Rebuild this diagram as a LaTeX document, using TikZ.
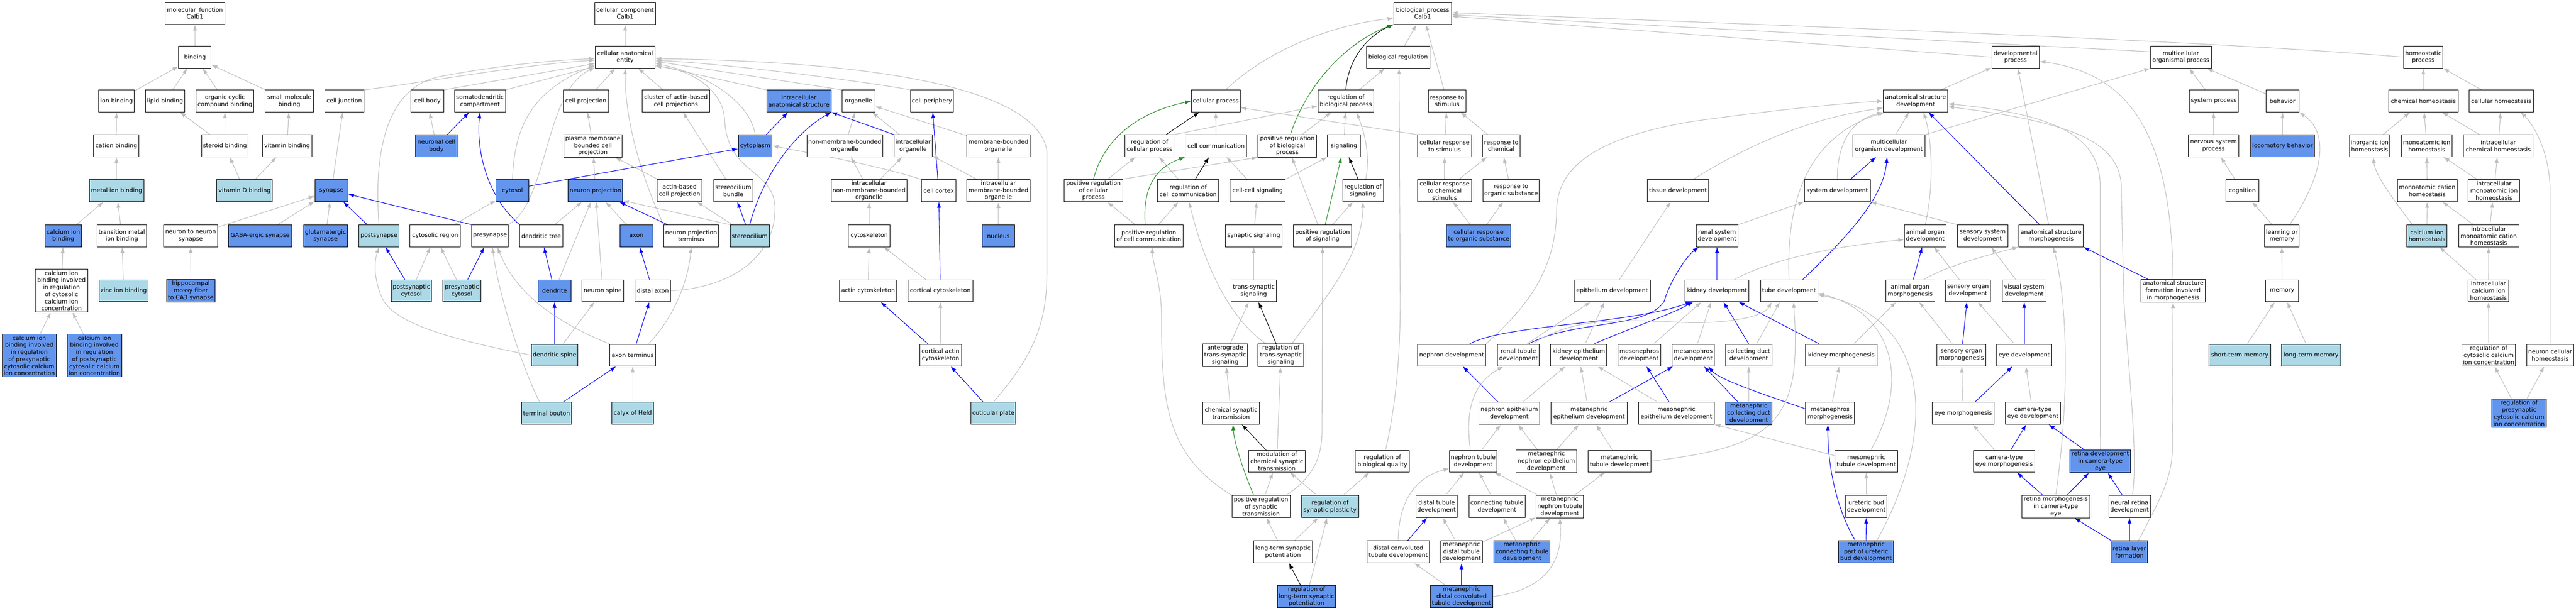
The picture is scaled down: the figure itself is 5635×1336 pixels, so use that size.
\documentclass[tikz,border=0pt]{standalone}
\usepackage{fontspec}
\setmainfont{DejaVu Sans}
\usetikzlibrary{arrows.meta}
\pgfdeclarelayer{bg}
\pgfdeclarelayer{canvas}
\pgfsetlayers{canvas,bg,main}
\definecolor{lbcol}{HTML}{ADD8E6}
\definecolor{cbcol}{HTML}{6495ED}
\definecolor{egray}{HTML}{BEBEBE}
\definecolor{eblue}{HTML}{0000FF}
\definecolor{egreen}{HTML}{228B22}
\newcommand{\gofont}{\fontsize{12.8pt}{15.5pt}\selectfont}
\newcommand{\gonode}[5]{\node[#1, minimum width=#2pt] (#3) at (#4) {#5};}
\tikzset{
  box/.style={draw=black, line width=1pt, rectangle, align=center, minimum height=48pt, inner xsep=2pt, inner ysep=3pt, font=\gofont, fill=white},
  lb/.style={box, fill=lbcol},
  cb/.style={box, fill=cbcol},
  ed/.style={line width=1.2pt, -{Latex[length=13pt,width=9pt]}},
  eg/.style={ed, draw=egray},
  eb/.style={ed, draw=eblue},
  egr/.style={ed, draw=egreen},
  ek/.style={ed, draw=black}
}
\begin{document}
\begin{tikzpicture}[x=1pt,y=-1pt]
\begin{pgfonlayer}{canvas}
\path[use as bounding box, fill=white] (0,0) rectangle (5635,1336);
\end{pgfonlayer}
% ---------------- molecular function
\gonode{box}{131}{mf}{426.5,29}{molecular\_function\\Calb1}
\gonode{box}{71}{binding}{426.5,125}{binding}
\gonode{box}{78}{ionb}{255,221}{ion binding}
\gonode{box}{86}{lipid}{361,221}{lipid binding}
\gonode{box}{126}{occb}{492,221}{organic cyclic\\compound binding}
\gonode{box}{106}{smb}{633,221}{small molecule\\binding}
\gonode{box}{86}{celljunc}{753,221}{cell junction}
\gonode{box}{99}{cationb}{254.5,319}{cation binding}
\gonode{box}{102}{steroid}{492,319}{steroid binding}
\gonode{box}{108}{vitb}{628,319}{vitamin binding}
\gonode{lb}{120}{metalion}{255,417}{metal ion binding}
\gonode{lb}{122}{vitD}{535,417}{vitamin D binding}
\gonode{cb}{72}{synapse}{725,417}{synapse}
\gonode{cb}{81}{caion}{138.5,516}{calcium ion\\binding}
\gonode{box}{109}{transmetal}{266.5,516}{transition metal\\ion binding}
\gonode{box}{118}{ntn}{417,516}{neuron to neuron\\synapse}
\gonode{cb}{138}{gaba}{569,516}{GABA-ergic synapse}
\gonode{cb}{96}{glut}{712,516}{glutamatergic\\synapse}
\gonode{lb}{88}{postsyn}{829,516}{postsynapse}
\gonode{box}{115}{cacyto}{134.5,636}{calcium ion\\binding involved\\in regulation\\of cytosolic\\calcium ion\\concentration}
\gonode{lb}{107}{zinc}{270.5,636}{zinc ion binding}
\gonode{cb}{107}{hippo}{417.5,636}{hippocampal\\mossy fiber\\to CA3 synapse}
\gonode{lb}{88}{postsyncyto}{900,636}{postsynaptic\\cytosol}
\gonode{cb}{118}{capre}{64,778}{calcium ion\\binding involved\\in regulation\\of presynaptic\\cytosolic calcium\\ion concentration}
\gonode{cb}{119}{capost}{206.5,778}{calcium ion\\binding involved\\in regulation\\of postsynaptic\\cytosolic calcium\\ion concentration}
% ---------------- cellular component
\gonode{box}{133}{cc}{1367.5,29}{cellular\_component\\Calb1}
\gonode{box}{131}{cae}{1367.5,125}{cellular anatomical\\entity}
\gonode{box}{72}{cellbody}{935,221}{cell body}
\gonode{box}{112}{somato}{1050,221}{somatodendritic\\compartment}
\gonode{box}{99}{cellproj}{1281.5,221}{cell projection}
\gonode{box}{147}{cluster}{1478.5,221}{cluster of actin-based\\cell projections}
\gonode{cb}{141}{ias}{1747.5,221}{intracellular\\anatomical structure}
\gonode{box}{72}{organelle}{1878,221}{organelle}
\gonode{box}{93}{cellperiph}{2038.5,221}{cell periphery}
\gonode{cb}{91}{ncb}{954.5,319}{neuronal cell\\body}
\gonode{box}{128}{pmbcp}{1297,319}{plasma membrane\\bounded cell\\projection}
\gonode{cb}{74}{cytoplasm}{1652,319}{cytoplasm}
\gonode{box}{166}{nmbo}{1848,319}{non-membrane-bounded\\organelle}
\gonode{box}{83}{io}{1997.5,319}{intracellular\\organelle}
\gonode{box}{138}{mbo}{2184,319}{membrane-bounded\\organelle}
\gonode{cb}{72}{cytosol}{1121,417}{cytosol}
\gonode{cb}{119}{neuronproj}{1302.5,417}{neuron projection}
\gonode{box}{99}{acp}{1486.5,417}{actin-based\\cell projection}
\gonode{box}{86}{scb}{1604,417}{stereocilium\\bundle}
\gonode{box}{166}{inmbo}{1901,417}{intracellular\\non-membrane-bounded\\organelle}
\gonode{box}{75}{cortex}{2053.5,417}{cell cortex}
\gonode{box}{138}{imbo}{2184,417}{intracellular\\membrane-bounded\\organelle}
\gonode{box}{110}{cytreg}{952,516}{cytosolic region}
\gonode{box}{80}{presynapse}{1072,516}{presynapse}
\gonode{box}{94}{dendtree}{1184,516}{dendritic tree}
\gonode{cb}{72}{axon}{1392,516}{axon}
\gonode{box}{120}{npt}{1512,516}{neuron projection\\terminus}
\gonode{lb}{86}{stereocilium}{1640,516}{stereocilium}
\gonode{box}{91}{cytoskeleton}{1901.5,516}{cytoskeleton}
\gonode{cb}{72}{nucleus}{2184,516}{nucleus}
\gonode{lb}{83}{presyncyto}{1010.5,636}{presynaptic\\cytosol}
\gonode{cb}{72}{dendrite}{1213,636}{dendrite}
\gonode{box}{91}{nspine}{1318.5,636}{neuron spine}
\gonode{box}{78}{distalaxon}{1428,636}{distal axon}
\gonode{box}{126}{actincyto}{1899,636}{actin cytoskeleton}
\gonode{box}{142}{corticalcyto}{2057,636}{cortical cytoskeleton}
\gonode{lb}{102}{dspine}{1213,777}{dendritic spine}
\gonode{box}{100}{axterm}{1384,777}{axon terminus}
\gonode{box}{91}{cac}{2057.5,777}{cortical actin\\cytoskeleton}
\gonode{lb}{109}{tbouton}{1195.5,904}{terminal bouton}
\gonode{lb}{92}{calyx}{1384,904}{calyx of Held}
\gonode{lb}{98}{cuticular}{2173,904}{cuticular plate}
% ---------------- biological process
\gonode{box}{126}{bp}{3112,29}{biological\_process\\Calb1}
\gonode{box}{139}{bioreg}{3058.5,125}{biological regulation}
\gonode{box}{104}{devproc}{4409,125}{developmental\\process}
\gonode{box}{133}{mop}{4770.5,125}{multicellular\\organismal process}
\gonode{box}{86}{homeo}{5301,125}{homeostatic\\process}
\gonode{box}{107}{cellproc}{2659.5,221}{cellular process}
\gonode{box}{122}{rbp}{2944,221}{regulation of\\biological process}
\gonode{box}{83}{rts}{3165.5,221}{response to\\stimulus}
\gonode{box}{141}{asd}{4190.5,221}{anatomical structure\\development}
\gonode{box}{107}{sysproc}{4842.5,221}{system process}
\gonode{box}{72}{behavior}{4993,221}{behavior}
\gonode{box}{152}{chemhomeo}{5301,221}{chemical homeostasis}
\gonode{box}{141}{cellhomeo}{5471.5,221}{cellular homeostasis}
\gonode{box}{107}{rcp}{2514.5,319}{regulation of\\cellular process}
\gonode{box}{134}{cellcomm}{2660,319}{cell communication}
\gonode{box}{128}{prbp}{2816,319}{positive regulation\\of biological\\process}
\gonode{box}{72}{signaling}{2940,319}{signaling}
\gonode{box}{118}{crs}{3160,319}{cellular response\\to stimulus}
\gonode{box}{82}{rtc}{3284,319}{response to\\chemical}
\gonode{box}{158}{mod}{4132,319}{multicellular\\organism development}
\gonode{box}{110}{nsp}{4842,319}{nervous system\\process}
\gonode{cb}{140}{locom}{4993,319}{locomotory behavior}
\gonode{box}{89}{iih}{5183.5,319}{inorganic ion\\homeostasis}
\gonode{box}{111}{mih}{5308.5,319}{monoatomic ion\\homeostasis}
\gonode{box}{152}{ich}{5465,319}{intracellular\\chemical homeostasis}
\gonode{box}{128}{prcp}{2392,417}{positive regulation\\of cellular\\process}
\gonode{box}{134}{rcc}{2599,417}{regulation of\\cell communication}
\gonode{box}{120}{ccs}{2751,417}{cell-cell signaling}
\gonode{box}{89}{rsig}{2981.5,417}{regulation of\\signaling}
\gonode{box}{118}{crcs}{3160,417}{cellular response\\to chemical\\stimulus}
\gonode{box}{123}{rtos}{3305.5,417}{response to\\organic substance}
\gonode{box}{135}{tissuedev}{3670.5,417}{tissue development}
\gonode{box}{144}{sysdev}{4019,417}{system development}
\gonode{box}{72}{cognition}{4905,417}{cognition}
\gonode{box}{131}{mch}{5309.5,417}{monoatomic cation\\homeostasis}
\gonode{box}{113}{imih}{5455.5,417}{intracellular\\monoatomic ion\\homeostasis}
\gonode{box}{150}{prcc}{2513,516}{positive regulation\\of cell communication}
\gonode{box}{123}{synsig}{2742.5,516}{synaptic signaling}
\gonode{box}{128}{prs}{2893,516}{positive regulation\\of signaling}
\gonode{cb}{141}{cros}{3234.5,516}{cellular response\\to organic substance}
\gonode{box}{92}{rsd}{3756,516}{renal system\\development}
\gonode{box}{91}{aod}{4211.5,516}{animal organ\\development}
\gonode{box}{110}{ssd}{4337,516}{sensory system\\development}
\gonode{box}{141}{asm}{4486.5,516}{anatomical structure\\morphogenesis}
\gonode{box}{75}{lom}{4991.5,516}{learning or\\memory}
\gonode{lb}{88}{cih}{5309,516}{calcium ion\\homeostasis}
\gonode{box}{132}{imch}{5444,516}{intracellular\\monoatomic cation\\homeostasis}
\gonode{box}{99}{tss}{2742.5,636}{trans-synaptic\\signaling}
\gonode{box}{167}{epidev}{3526.5,636}{epithelium development}
\gonode{box}{140}{kidneydev}{3756,636}{kidney development}
\gonode{box}{125}{tubedev}{3913.5,636}{tube development}
\gonode{box}{107}{aom}{4178.5,636}{animal organ\\morphogenesis}
\gonode{box}{98}{sod}{4305,636}{sensory organ\\development}
\gonode{box}{96}{vsd}{4428,636}{visual system\\development}
\gonode{box}{141}{asfm}{4753.5,636}{anatomical structure\\formation involved\\in morphogenesis}
\gonode{box}{72}{memory}{4992,636}{memory}
\gonode{box}{89}{icih}{5443.5,636}{intracellular\\calcium ion\\homeostasis}
\gonode{box}{98}{ats}{2680,777}{anterograde\\trans-synaptic\\signaling}
\gonode{box}{100}{rtss}{2802,777}{regulation of\\trans-synaptic\\signaling}
\gonode{box}{149}{nephdev}{3175.5,777}{nephron development}
\gonode{box}{91}{rtd}{3321.5,777}{renal tubule\\development}
\gonode{box}{123}{ked}{3453.5,777}{kidney epithelium\\development}
\gonode{box}{94}{mesodev}{3586,777}{mesonephros\\development}
\gonode{box}{92}{metadev}{3704,777}{metanephros\\development}
\gonode{box}{101}{cdd}{3825.5,777}{collecting duct\\development}
\gonode{box}{156}{kmorph}{4028,777}{kidney morphogenesis}
\gonode{box}{107}{som}{4290.5,777}{sensory organ\\morphogenesis}
\gonode{box}{120}{eyedev}{4428,777}{eye development}
\gonode{lb}{135}{stm}{4899.5,777}{short-term memory}
\gonode{lb}{129}{ltm}{5055.5,777}{long-term memory}
\gonode{box}{118}{rccic}{5444,777}{regulation of\\cytosolic calcium\\ion concentration}
\gonode{box}{103}{nch}{5578.5,777}{neuron cellular\\homeostasis}
\gonode{box}{124}{cst}{2693,904}{chemical synaptic\\transmission}
\gonode{box}{133}{ned}{3301.5,904}{nephron epithelium\\development}
\gonode{box}{166}{med}{3476,904}{metanephric\\epithelium development}
\gonode{box}{166}{mesoepi}{3667,904}{mesonephric\\epithelium development}
\gonode{cb}{101}{mcdd}{3825.5,904}{metanephric\\collecting duct\\development}
\gonode{box}{107}{mmorph}{4003.5,904}{metanephros\\morphogenesis}
\gonode{box}{135}{eyemorph}{4294.5,904}{eye morphogenesis}
\gonode{box}{120}{cted}{4447,904}{camera-type\\eye development}
\gonode{cb}{119}{rpcc}{5510.5,904}{regulation of\\presynaptic\\cytosolic calcium\\ion concentration}
\gonode{box}{124}{mcst}{2793,1009}{modulation of\\chemical synaptic\\transmission}
\gonode{box}{118}{rbq}{3024,1009}{regulation of\\biological quality}
\gonode{box}{103}{ntd}{3222.5,1009}{nephron tubule\\development}
\gonode{box}{133}{mned}{3382.5,1009}{metanephric\\nephron epithelium\\development}
\gonode{box}{137}{mtd}{3542.5,1009}{metanephric\\tubule development}
\gonode{box}{137}{mtubd}{4082.5,1009}{mesonephric\\tubule development}
\gonode{box}{134}{ctem}{4384,1009}{camera-type\\eye morphogenesis}
\gonode{cb}{133}{rdcte}{4594.5,1009}{retina development\\in camera-type\\eye}
\gonode{box}{127}{prst}{2758.5,1108}{positive regulation\\of synaptic\\transmission}
\gonode{lb}{125}{rsp}{2909.5,1108}{regulation of\\synaptic plasticity}
\gonode{box}{91}{dtd}{3142.5,1108}{distal tubule\\development}
\gonode{box}{123}{ctd}{3274.5,1108}{connecting tubule\\development}
\gonode{box}{104}{mntd}{3412,1108}{metanephric\\nephron tubule\\development}
\gonode{box}{91}{ubd}{4082.5,1108}{ureteric bud\\development}
\gonode{box}{148}{rmcte}{4497,1108}{retina morphogenesis\\in camera-type\\eye}
\gonode{box}{91}{nrd}{4658.5,1108}{neural retina\\development}
\gonode{box}{129}{ltp}{2806.5,1207}{long-term synaptic\\potentiation}
\gonode{box}{137}{dctd}{3058.5,1207}{distal convoluted\\tubule development}
\gonode{box}{92}{mdtd}{3197,1207}{metanephric\\distal tubule\\development}
\gonode{cb}{123}{mctd}{3329.5,1207}{metanephric\\connecting tubule\\development}
\gonode{cb}{120}{mpubd}{4082,1207}{metanephric\\part of ureteric\\bud development}
\gonode{cb}{80}{rlf}{4658,1207}{retina layer\\formation}
\gonode{cb}{128}{rltp}{2858,1305}{regulation of\\long-term synaptic\\potentiation}
\gonode{cb}{136}{mdctd}{3197,1305}{metanephric\\distal convoluted\\tubule development}
% ================= edges
\begin{pgfonlayer}{bg}
% MF
\draw[eg] (binding) -- (mf);
\draw[eg] (ionb) -- (binding);
\draw[eg] (lipid) -- (binding);
\draw[eg] (occb) -- (binding);
\draw[eg] (smb) -- (binding);
\draw[eg] (cationb) -- (ionb);
\draw[eg] (steroid) -- (lipid);
\draw[eg] (steroid) -- (occb);
\draw[eg] (vitb) -- (smb);
\draw[eg] (metalion) -- (cationb);
\draw[eg] (vitD) -- (steroid);
\draw[eg] (vitD) -- (vitb);
\draw[eg] (caion) -- (metalion);
\draw[eg] (transmetal) -- (metalion);
\draw[eg] (cacyto) -- (caion);
\draw[eg] (zinc) -- (transmetal);
\draw[eg] (capre) -- (cacyto);
\draw[eg] (capost) -- (cacyto);
% CC
\draw[eg] (cae) -- (cc);
\draw[eg] (celljunc.north east) .. controls (900,185) and (1150,140) .. (cae.186);
\draw[eg] (postsyn.north) .. controls (815,300) and (860,190) .. (960,168) .. controls (1080,145) and (1200,132) .. (cae.183);
\draw[eg] (cellbody.north east) -- (cae.192);
\draw[eg] (somato.north east) -- (cae.197);
\draw[eg] (cytosol.north) .. controls (1125,280) and (1160,200) .. (cae.195);
\draw[eg] (presynapse.north east) .. controls (1200,440) and (1190,200) .. (cae.199);
\draw[eg] (cellproj) -- (cae);
\draw[eg] (cluster) -- (cae);
\draw[eg] (npt.north west) .. controls (1400,380) and (1367,260) .. (cae.south);
\draw[eg] (ias.north west) -- (cae.345);
\draw[eg] (organelle.north west) -- (cae.352);
\draw[eg] (cytoplasm.north) .. controls (1640,220) and (1540,160) .. (cae.348);
\draw[eg] (distalaxon.east) .. controls (1600,630) and (1700,560) .. (1695,450) .. controls (1690,370) and (1590,380) .. (1585,260) .. controls (1580,190) and (1500,150) .. (cae.343);
\draw[eg] (cellperiph.north west) .. controls (1900,180) and (1600,140) .. (cae.354);
\draw[eg] (cuticular.north) .. controls (2250,790) and (2290,720) .. (2290,600) -- (2290,330) .. controls (2270,200) and (1950,135) .. (cae.357);
\draw[eg] (synapse) -- (celljunc);
\draw[eg] (ntn) -- (synapse);
\draw[eg] (gaba) -- (synapse);
\draw[eg] (glut) -- (synapse);
\draw[eb] (postsyn) -- (synapse);
\draw[eb] (presynapse.north west) -- (synapse.-12);
\draw[eg] (hippo) -- (ntn);
\draw[eb] (postsyncyto) -- (postsyn);
\draw[eg] (postsyncyto) -- (cytreg);
\draw[eg] (dspine.west) .. controls (1000,745) and (860,710) .. (835,650) .. controls (818,610) and (818,575) .. (postsyn.south);
\draw[eg] (ncb) -- (cellbody);
\draw[eb] (ncb) -- (somato);
\draw[eg] (pmbcp) -- (cellproj);
\draw[eb] (cytoplasm) -- (ias);
\draw[eg] (nmbo) -- (organelle);
\draw[eb] (cytosol.15) -- (cytoplasm.190);
\draw[eg] (neuronproj) -- (pmbcp);
\draw[eg] (acp) -- (pmbcp);
\draw[eg] (scb) -- (cluster);
\draw[eg] (inmbo) -- (nmbo);
\draw[eg] (inmbo) -- (io);
\draw[eg] (cytreg) -- (cytosol);
\draw[eg] (dendtree) -- (neuronproj);
\draw[eb] (dendtree.north west) .. controls (1060,425) and (1042,320) .. (somato.south);
\draw[eg] (axon) -- (neuronproj);
\draw[eb] (npt) -- (neuronproj);
\draw[eg] (stereocilium) -- (acp);
\draw[eg] (stereocilium.north west) -- (neuronproj.340);
\draw[eb] (stereocilium) -- (scb);
\draw[eb] (stereocilium.north) .. controls (1670,380) and (1740,290) .. (ias.south east);
\draw[eg] (io) -- (organelle);
\draw[eb] (io.north west) -- (ias.south east);
\draw[eg] (mbo) -- (organelle);
\draw[eb] (cortex) -- (cellperiph);
\draw[eg] (cortex.north west) .. controls (1930,365) and (1800,340) .. (cytoplasm.east);
\draw[eg] (imbo) -- (io);
\draw[eg] (imbo) -- (mbo);
\draw[eg] (cytoskeleton) -- (inmbo);
\draw[eg] (nucleus) -- (imbo);
\draw[eg] (actincyto) -- (cytoskeleton);
\draw[eg] (corticalcyto) -- (cytoskeleton);
\draw[eb] (corticalcyto) -- (cortex);
\draw[eb] (cac) -- (actincyto);
\draw[eg] (cac) -- (corticalcyto);
\draw[eb] (cuticular) -- (cac);
\draw[eb] (presyncyto) -- (presynapse);
\draw[eg] (presyncyto) -- (cytreg);
\draw[eb] (dendrite) -- (dendtree);
\draw[eg] (dendrite) -- (neuronproj);
\draw[eg] (nspine) -- (neuronproj);
\draw[eb] (distalaxon) -- (axon);
\draw[eb] (dspine) -- (dendrite);
\draw[eg] (dspine) -- (nspine);
\draw[eg] (axterm.north west) .. controls (1180,690) and (1120,620) .. ([xshift=16pt]presynapse.south);
\draw[eb] (axterm) -- (distalaxon);
\draw[eg] ([xshift=34pt]axterm.north) .. controls (1470,700) and (1505,620) .. (npt.south);
\draw[eg] ([xshift=-15pt]tbouton.north) .. controls (1140,800) and (1090,640) .. ([xshift=5pt]presynapse.south);
\draw[eb] (tbouton) -- (axterm);
\draw[eg] (calyx) -- (axterm);
% BP upper
\draw[eg] (bioreg) -- (bp);
\draw[eg] (rts) -- (bp);
\draw[ek] (rbp.north) .. controls (2950,120) and (3000,75) .. (bp.south west);
\draw[egr] ([xshift=7pt]prbp.north) .. controls (2860,180) and (2950,90) .. (bp.south west);
\draw[eg] ([xshift=22pt]cellproc.north) .. controls (2760,120) and (2900,55) .. (bp.190);
\draw[eg] (devproc.west) -- (bp.354);
\draw[eg] (mop.170) -- (bp.357);
\draw[eg] (homeo.west) .. controls (4900,95) and (4300,70) .. (bp.1);
\draw[eg] (rbp) -- (bioreg);
\draw[ek] (rcp) -- (cellproc);
\draw[eg] (cellcomm) -- (cellproc);
\draw[egr] (prcp.north) .. controls (2410,320) and (2470,250) .. (cellproc.west);
\draw[eg] (crs.north west) -- (cellproc.345);
\draw[eg] (rcp.north east) -- (rbp.190);
\draw[eg] (prcp) -- (rcp);
\draw[eg] (prcp.north east) -- (prbp.south west);
\draw[eg] (rcc) -- (rcp);
\draw[ek] (rcc) -- (cellcomm);
\draw[eg] (ccs) -- (cellcomm);
\draw[eg] (ccs.north east) -- (signaling.south west);
\draw[eg] (prcc) -- (prcp);
\draw[eg] (prcc) -- (rcc);
\draw[egr] ([xshift=-8pt]prcc.north) .. controls (2500,420) and (2520,370) .. (cellcomm.south west);
\draw[eg] (synsig) -- (ccs);
\draw[eg] (tss) -- (synsig);
\draw[eg] (ats) -- (tss);
\draw[ek] (rtss) -- (tss);
\draw[eg] ([xshift=-33pt]rtss.north) .. controls (2680,690) and (2630,560) .. ([xshift=2pt]rcc.south);
\draw[eg] ([xshift=24pt]rtss.north) .. controls (2900,650) and (2980,560) .. (rsig.south);
\draw[eg] (cst) -- (ats);
\draw[ek] (mcst) -- (cst);
\draw[eg] (mcst) -- (rtss);
\draw[egr] ([xshift=-16pt]prst.north) .. controls (2720,1030) and (2700,970) .. ([xshift=4pt]cst.south);
\draw[eg] (prst) -- (mcst);
\draw[eg] (prst.north west) .. controls (2560,1000) and (2540,900) .. (2541,700) .. controls (2541,620) and (2522,580) .. ([xshift=7pt]prcc.south);
\draw[eg] ([xshift=55pt]prst.north) .. controls (2880,1040) and (2892,990) .. (2892,940) -- (prs.south);
\draw[eg] (ltp) -- (prst);
\draw[eg] (ltp) -- (rsp);
\draw[ek] (rltp) -- (ltp);
\draw[eg] (rltp) -- (rsp);
\draw[eg] (rsp) -- (mcst);
\draw[eg] (rsp) -- (rbq);
\draw[eg] ([xshift=7pt]rbq.north) .. controls (3050,900) and (3063,800) .. (3063,660) -- ([xshift=2pt]bioreg.south);
\draw[eg] (prbp) -- (rbp);
\draw[eg] (signaling) -- (rbp);
\draw[eg] ([xshift=6pt]rsig.north) .. controls (2998,340) and (2985,290) .. ([xshift=23pt]rbp.south);
\draw[ek] (rsig) -- (signaling);
\draw[egr] (prs) -- (signaling);
\draw[eg] (prs) -- (rsig);
\draw[eg] ([xshift=-10pt]prs.north) -- ([xshift=10pt]prbp.south);
\draw[eg] (crs) -- (rts);
\draw[eg] (rtc) -- (rts);
\draw[eg] (crcs) -- (crs);
\draw[eg] (crcs) -- (rtc);
\draw[eg] (rtos) -- (rtc);
\draw[eg] (cros) -- (crcs);
\draw[eg] (cros) -- (rtos);
% development
\draw[eg] (asd) -- (devproc);
\draw[eg] (mod) -- (asd);
\draw[eg] (mod.north east) -- (mop.south west);
\draw[eb] (sysdev) -- (mod);
\draw[eg] (sysdev.north) .. controls (4019,300) and (4060,260) .. (asd.south west);
\draw[eg] ([xshift=33pt]tissuedev.north) .. controls (3820,320) and (3950,260) .. (asd.192);
\draw[eg] (nephdev.north east) .. controls (3330,680) and (3404,600) .. (3405,460) .. controls (3407,360) and (3500,300) .. (3700,266) .. controls (3850,245) and (4000,228) .. (asd.west);
\draw[eg] (tubedev.north) .. controls (3905,400) and (3980,290) .. (asd.200);
\draw[eb] ([xshift=30pt]tubedev.north) .. controls (4050,510) and (4120,430) .. ([xshift=-4pt]mod.south);
\draw[eg] (aod.north) .. controls (4232,400) and (4225,300) .. ([xshift=17pt]asd.south);
\draw[eb] ([xshift=-25pt]asm.north) -- ([xshift=28pt]asd.south);
\draw[eg] ([xshift=-5pt]asm.north) -- ([xshift=5pt]devproc.south);
\draw[eg] (asfm.north) .. controls (4750,280) and (4650,160) .. (devproc.-10);
\draw[eb] ([xshift=-55pt]asfm.north) -- (asm.south east);
\draw[eg] (rsd.north east) -- (sysdev.south west);
\draw[eg] (ssd.north west) -- (sysdev.south east);
\draw[eb] (kidneydev) -- (rsd);
\draw[eg] ([xshift=38pt]kidneydev.north) .. controls (3870,570) and (4000,540) .. (aod.190);
\draw[eb] (aom) -- (aod);
\draw[eg] ([xshift=30pt]aom.north) .. controls (4240,592) and (4300,570) .. (asm.south west);
\draw[eg] (sod) -- (aod);
\draw[eg] (vsd) -- (ssd);
\draw[eg] (rmcte.north) .. controls (4530,850) and (4520,650) .. ([xshift=5pt]asm.south);
\draw[eg] (rdcte.north) -- (4594,400) .. controls (4590,300) and (4500,250) .. (asd.355);
\draw[eg] ([xshift=6pt]nrd.north) .. controls (4678,1000) and (4655,800) .. (4646,660) -- (4640,400) .. controls (4630,320) and (4560,270) .. (asd.350);
\draw[eg] ([xshift=10pt]mtubd.north) .. controls (4185,820) and (4130,680) .. (tubedev.-5);
\draw[eg] ([xshift=24pt]mpubd.north) .. controls (4250,920) and (4210,690) .. (tubedev.-8);
\draw[eg] (mtubd.170) -- (mesoepi.south east);
\draw[eg] (ubd) -- (mtubd);
\draw[eb] ([xshift=-24pt]mpubd.north) .. controls (4010,1100) and (3998,1000) .. ([xshift=-5pt]mmorph.south);
\draw[eb] (mpubd) -- (ubd);
\draw[eg] (mmorph) -- (kmorph);
\draw[eb] (mmorph.170) .. controls (3850,860) and (3760,830) .. ([xshift=33pt]metadev.south);
\draw[eb] (mcdd) -- (metadev);
\draw[eg] (mcdd) -- (cdd);
\draw[eb] (cdd.north) -- ([xshift=14pt]kidneydev.south);
\draw[eg] ([xshift=17pt]cdd.north) -- ([xshift=-20pt]tubedev.south);
\draw[eb] ([xshift=-48pt]kmorph.north) -- ([xshift=47pt]kidneydev.south);
\draw[eg] ([xshift=27pt]kmorph.north) -- ([xshift=-31pt]aom.south);
\draw[eg] (som) -- (aom);
\draw[eb] (som) -- (sod);
\draw[eg] (eyedev) -- (sod);
\draw[eb] (eyedev) -- (vsd);
\draw[eg] (eyemorph) -- (som);
\draw[eb] (eyemorph) -- (eyedev);
\draw[eg] (cted) -- (eyedev);
\draw[eg] (ctem) -- (eyemorph);
\draw[eb] (ctem) -- (cted);
\draw[eb] (rdcte) -- (cted);
\draw[eb] (rmcte) -- (ctem);
\draw[eb] (rmcte) -- (rdcte);
\draw[eb] (nrd) -- (rdcte);
\draw[eb] (rlf) -- (rmcte);
\draw[eb] (rlf) -- (nrd);
\draw[eg] ([xshift=20pt]rlf.north) .. controls (4720,1100) and (4752,1050) .. (4752,980) -- (asfm.south);
% kidney
\draw[eb] ([xshift=39pt]nephdev.north) .. controls (3290,710) and (3560,710) .. ([xshift=-56pt]kidneydev.south);
\draw[eb] ([xshift=22pt]rtd.north) .. controls (3440,700) and (3600,720) .. (3640,660) .. controls (3655,610) and (3690,560) .. ([xshift=-40pt]rsd.south);
\draw[eg] ([xshift=18pt]rtd.north) -- ([xshift=-47pt]epidev.south);
\draw[eb] ([xshift=33pt]ked.north) .. controls (3560,720) and (3650,690) .. ([xshift=-52pt]kidneydev.south);
\draw[eg] ([xshift=14pt]ked.north) -- ([xshift=-17pt]epidev.south);
\draw[eg] ([xshift=30pt]rtd.north) .. controls (3450,690) and (3550,700) .. (3700,706) .. controls (3800,706) and (3860,690) .. ([xshift=-38pt]tubedev.south);
\draw[eg] ([xshift=31pt]mesodev.north) -- ([xshift=-34pt]kidneydev.south);
\draw[eg] ([xshift=9pt]metadev.north) -- ([xshift=-13pt]kidneydev.south);
\draw[eg] (epidev) -- (tissuedev);
\draw[eb] (ned) -- (nephdev);
\draw[eg] (ned) -- (ked);
\draw[eg] (med) -- (ked);
\draw[eb] (med) -- (metadev);
\draw[eg] (mesoepi) -- (ked);
\draw[eb] (mesoepi) -- (mesodev);
\draw[eg] (ntd) -- (ned);
\draw[eg] ([xshift=-6pt]ntd.north) .. controls (3205,900) and (3220,840) .. ([xshift=-33pt]rtd.south);
\draw[eg] (mned) -- (ned);
\draw[eg] (mned) -- (med);
\draw[eg] (mtd) -- (med);
\draw[eg] (mtd.east) .. controls (3800,985) and (3910,960) .. (3925,800) .. controls (3930,740) and (3925,690) .. ([xshift=10pt]tubedev.south);
\draw[eg] (dtd) -- (ntd);
\draw[eg] (ctd) -- (ntd);
\draw[eg] (mntd) -- (ntd);
\draw[eg] (mntd) -- (mned);
\draw[eg] (mntd) -- (mtd);
\draw[eb] (dctd) -- (dtd);
\draw[eg] (dctd.north) .. controls (3060,1080) and (3110,1040) .. (ntd.197);
\draw[eg] (mdtd) -- (dtd);
\draw[eg] (mdtd) -- (mntd);
\draw[eg] (mctd) -- (ctd);
\draw[eg] (mctd) -- (mntd);
\draw[eg] (mdctd) -- (dctd);
\draw[eb] (mdctd) -- (mdtd);
\draw[eg] (mdctd.east) .. controls (3380,1290) and (3420,1230) .. (mntd.south);
% homeostasis / behaviour
\draw[eg] (sysproc) -- (mop);
\draw[eg] (behavior) -- (mop);
\draw[eg] (chemhomeo) -- (homeo);
\draw[eg] (cellhomeo) -- (homeo);
\draw[eg] (nsp) -- (sysproc);
\draw[eg] (locom) -- (behavior);
\draw[eg] (iih) -- (chemhomeo);
\draw[eg] (mih) -- (chemhomeo);
\draw[eg] (ich) -- (chemhomeo);
\draw[eg] (ich) -- (cellhomeo);
\draw[eg] (cognition) -- (nsp);
\draw[eg] (mch) -- (mih);
\draw[eg] (imih) -- (mih);
\draw[eg] (imih) -- (ich);
\draw[eg] (lom) -- (cognition);
\draw[eg] ([xshift=17pt]lom.north) .. controls (5085,380) and (5095,290) .. (behavior.south east);
\draw[eg] ([xshift=-32pt]cih.north) .. controls (5230,430) and (5195,380) .. ([xshift=8pt]iih.south);
\draw[eg] (cih) -- (mch);
\draw[eg] (imch) -- (mch);
\draw[eg] (imch) -- (imih);
\draw[eg] (memory) -- (lom);
\draw[eg] (icih) -- (cih);
\draw[eg] (icih) -- (imch);
\draw[eg] (stm) -- (memory);
\draw[eg] (ltm) -- (memory);
\draw[eg] (rccic) -- (icih);
\draw[eg] (nch.north) -- (5578.5,420) .. controls (5578,330) and (5540,270) .. ([xshift=42pt]cellhomeo.south);
\draw[eg] (rpcc) -- (rccic);
\draw[eg] (rpcc) -- (nch);
\end{pgfonlayer}
\end{tikzpicture}
\end{document}
